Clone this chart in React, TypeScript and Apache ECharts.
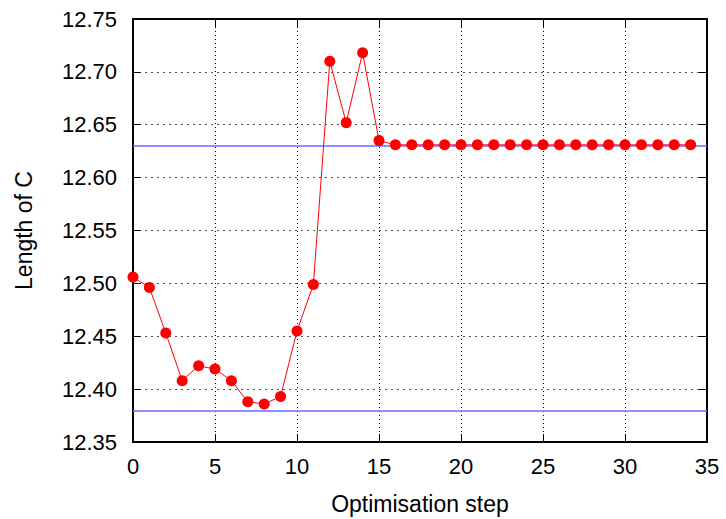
import React, { useEffect, useRef } from "react";
import * as echarts from "echarts";

const steps = [0,1,2,3,4,5,6,7,8,9,10,11,12,13,14,15,16,17,18,19,20,21,22,23,24,25,26,27,28,29,30,31,32,33,34];
const lengths = [
  12.506, 12.496, 12.453, 12.408, 12.422, 12.419, 12.408, 12.388, 12.386, 12.393,
  12.455, 12.499, 12.710, 12.652, 12.718, 12.635, 12.631, 12.631, 12.631, 12.631,
  12.631, 12.631, 12.631, 12.631, 12.631, 12.631, 12.631, 12.631, 12.631, 12.631,
  12.631, 12.631, 12.631, 12.631, 12.631,
];
const referenceLevels = [12.631, 12.380];
const xTitle = "Optimisation step";
const yTitle = "Length of C";

export default function App() {
  const ref = useRef<HTMLDivElement>(null);
  useEffect(() => {
    if (!ref.current) return;
    const chart = echarts.init(ref.current, null, { renderer: "svg" });
    const font = "Liberation Sans, Arial, sans-serif";
    const baseX = {
      type: "value",
      min: 0,
      max: 35,
      interval: 5,
      axisLine: { show: true, onZero: false, lineStyle: { color: "#000", width: 2 } },
      axisTick: { show: true, inside: true, length: 8, lineStyle: { color: "#000", width: 1 } },
    };
    const baseY = {
      type: "value",
      min: 12.35,
      max: 12.75,
      interval: 0.05,
      axisLine: { show: true, onZero: false, lineStyle: { color: "#000", width: 2 } },
      axisTick: { show: true, inside: true, length: 8, lineStyle: { color: "#000", width: 1 } },
    };
    chart.setOption({
      animation: false,
      backgroundColor: "#fff",
      grid: {
        left: 133,
        right: 19,
        top: 19,
        bottom: 77,
        containLabel: false,
        outerBoundsMode: "none",
      },
      xAxis: [
        {
          ...baseX,
          position: "bottom",
          name: xTitle,
          nameLocation: "middle",
          nameGap: 50,
          nameTextStyle: { fontFamily: font, fontSize: 23, color: "#000" },
          axisLabel: { fontFamily: font, fontSize: 22, color: "#000", margin: 13 },
          splitLine: { show: true, lineStyle: { color: "#000", type: [1, 3], width: 1 } },
        },
        {
          ...baseX,
          position: "top",
          axisLabel: { show: false },
          splitLine: { show: false },
        },
      ],
      yAxis: [
        {
          ...baseY,
          position: "left",
          name: yTitle,
          nameLocation: "middle",
          nameGap: 98,
          nameRotate: 90,
          nameTextStyle: { fontFamily: font, fontSize: 23, color: "#000" },
          axisLabel: {
            fontFamily: font,
            fontSize: 22,
            color: "#000",
            margin: 16,
            formatter: (v: number) => v.toFixed(2),
          },
          splitLine: { show: true, lineStyle: { color: "#555", type: [2, 4], width: 1 } },
        },
        {
          ...baseY,
          position: "right",
          axisLabel: { show: false },
          splitLine: { show: false },
        },
      ],
      series: [
        {
          type: "line",
          xAxisIndex: 0,
          yAxisIndex: 0,
          data: steps.map((s, i) => [s, lengths[i]]),
          symbol: "circle",
          symbolSize: 11,
          itemStyle: { color: "#ff0000" },
          lineStyle: { color: "#ff0000", width: 1 },
          z: 3,
          markLine: {
            silent: true,
            symbol: "none",
            label: { show: false },
            lineStyle: { color: "#6a6aff", type: "solid", width: 1.5 },
            data: referenceLevels.map((v) => ({ yAxis: v })),
            z: 2,
          },
        },
      ],
    });
    return () => chart.dispose();
  }, []);
  return (
    <div
      ref={ref}
      style={{ position: "fixed", left: 0, top: 0, width: 726, height: 519 }}
    />
  );
}
